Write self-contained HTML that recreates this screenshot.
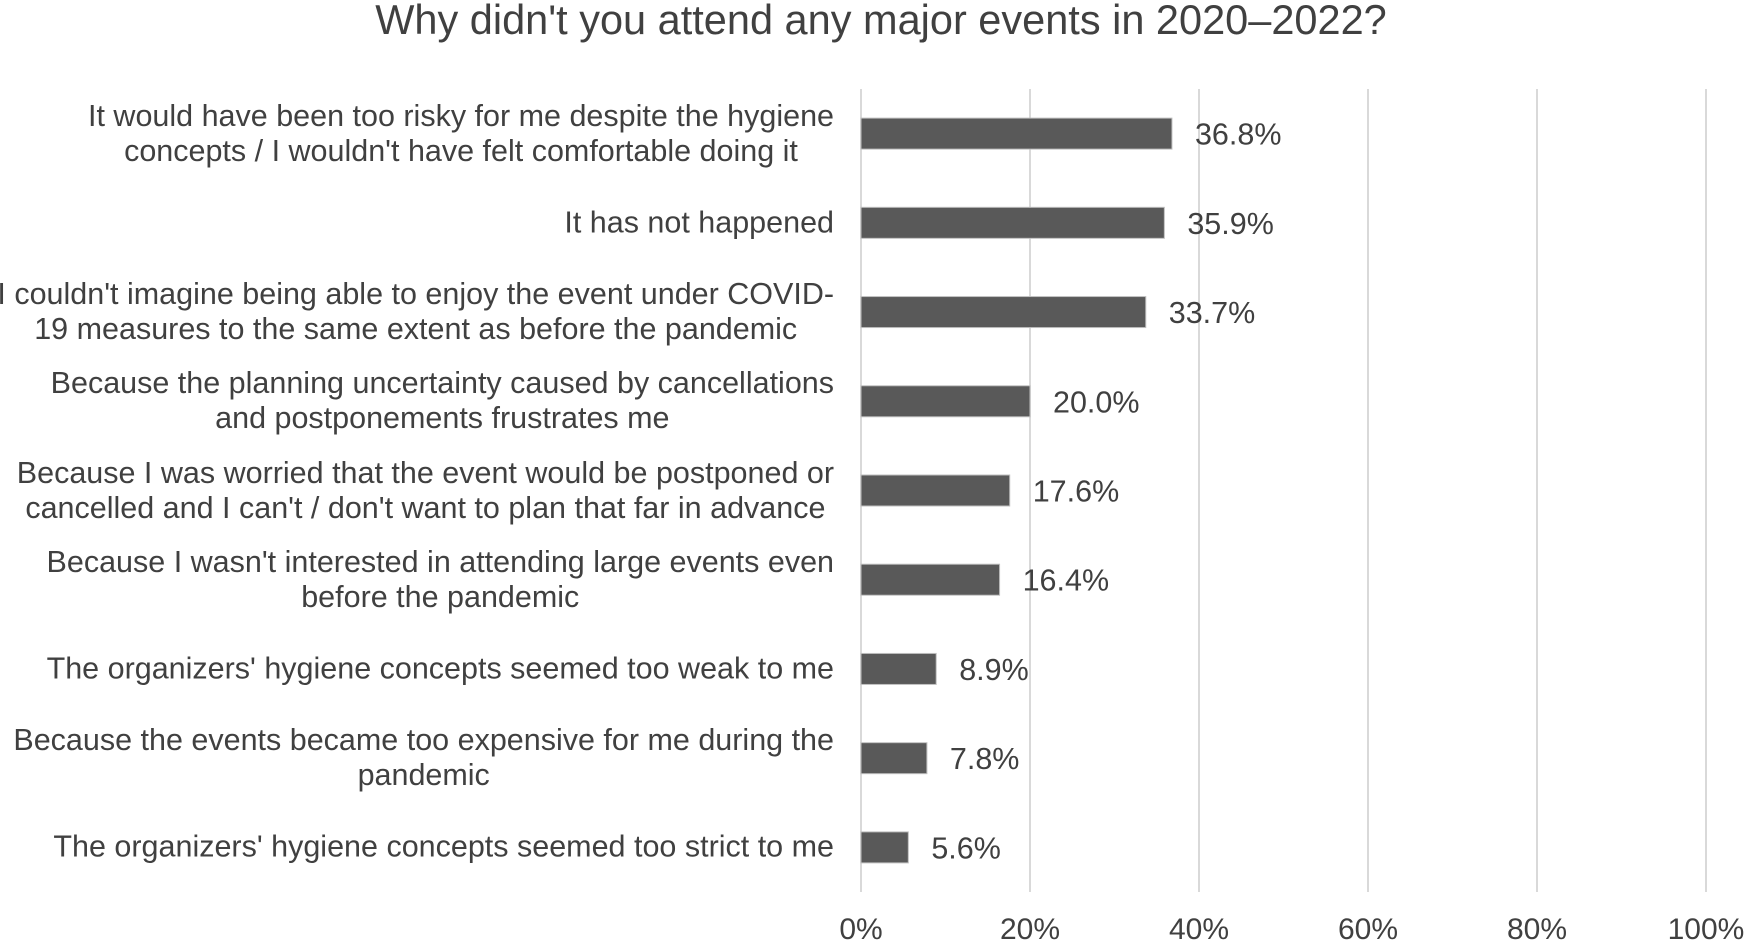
<!DOCTYPE html>
<html><head><meta charset="utf-8"><style>
body{margin:0;background:#fff;}
#chart{position:relative;width:1748px;height:942px;overflow:hidden;font-family:"Liberation Sans",Arial,sans-serif;color:#404040;}
.lbl{position:absolute;right:914px;text-align:center;white-space:nowrap;font-size:30.5px;line-height:35px;transform:translateY(-50%);}
.title{position:absolute;left:0;width:1762px;text-align:center;top:-4px;font-size:41.5px;}
</style></head><body>
<div id="chart">
<div class="title">Why didn't you attend any major events in 2020–2022?</div>
<svg id="svg" width="1748" height="942" style="position:absolute;left:0;top:0"></svg>
</div>
<script>
const categories=[
"It would have been too risky for me despite the hygiene|concepts / I wouldn't have felt comfortable doing it",
"It has not happened",
"I couldn't imagine being able to enjoy the event under COVID-|19 measures to the same extent as before the pandemic",
"Because the planning uncertainty caused by cancellations|and postponements frustrates me",
"Because I was worried that the event would be postponed or|cancelled and I can't / don't want to plan that far in advance",
"Because I wasn't interested in attending large events even|before the pandemic",
"The organizers' hygiene concepts seemed too weak to me",
"Because the events became too expensive for me during the|pandemic",
"The organizers' hygiene concepts seemed too strict to me"];
const values=[36.8,35.9,33.7,20.0,17.6,16.4,8.9,7.8,5.6];
const ticks=[0,20,40,60,80,100];
const tickLabels=["0%","20%","40%","60%","80%","100%"];

const X0=861,X1=1706,Y0=89,Y1=892;
const x=v=>X0+(X1-X0)*v/100;
const rowH=(Y1-Y0)/categories.length;
const y=i=>Y0+rowH*(i+0.5);
const NS="http://www.w3.org/2000/svg";
const svg=document.getElementById('svg');
const chart=document.getElementById('chart');
function mk(t,a){const e=document.createElementNS(NS,t);for(const k in a)e.setAttribute(k,a[k]);svg.appendChild(e);return e;}
ticks.forEach((t,i)=>{
  const g=mk('line',{x1:x(t),x2:x(t),y1:Y0,y2:Y1,stroke:'#d9d9d9','stroke-width':2});
  
  
  const tx=mk('text',{x:x(t),y:939,'text-anchor':'middle','font-size':30,fill:'#404040'});
  tx.textContent=tickLabels[i];
  
  
});
values.forEach((v,i)=>{
  const cy=y(i);
  const r=mk('rect',{x:X0,y:cy-15.5,width:x(v)-X0,height:31,fill:'#595959',stroke:'#bfbfbf','stroke-width':1});
  
  
  const t=mk('text',{x:x(v)+23,y:cy+11,'font-size':30.5,fill:'#404040'});
  t.textContent=v.toFixed(1)+'%';
  
  
  const d=document.createElement('div');
  d.className='lbl';
  d.style.top=cy+'px';
  d.innerHTML=categories[i].split('|').join('<br>');
  
  
  chart.appendChild(d);
});
</script>
</body></html>
